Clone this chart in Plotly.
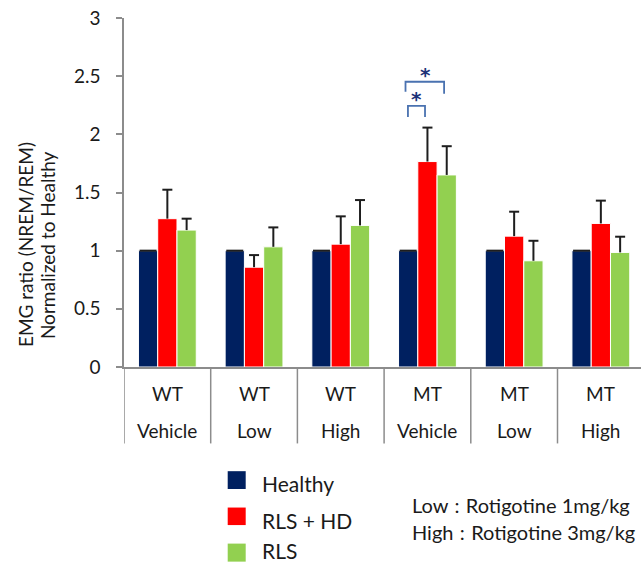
import plotly.graph_objects as go

# ---- data -------------------------------------------------------------
genotype = ["WT", "WT", "WT", "MT", "MT", "MT"]
treatment = ["Vehicle", "Low", "High", "Vehicle", "Low", "High"]

healthy = [1.0, 1.0, 1.0, 1.0, 1.0, 1.0]
rls_hd = [1.275, 0.858, 1.056, 1.766, 1.125, 1.234]
rls = [1.177, 1.033, 1.217, 1.651, 0.913, 0.985]

healthy_err = [0, 0, 0, 0, 0, 0]
rls_hd_err = [0.249, 0.104, 0.239, 0.292, 0.210, 0.196]
rls_err = [0.098, 0.167, 0.218, 0.247, 0.172, 0.135]

series_names = ["Healthy", "RLS + HD", "RLS"]
series_colors = ["#002060", "#FF0000", "#92D050"]

y_ticks = [0, 0.5, 1, 1.5, 2, 2.5, 3]
y_tick_text = ["0", "0.5", "1", "1.5", "2", "2.5", "3"]

dose_notes = ["Low\u00a0\u200a:\u00a0\u200aRotigotine 1mg/kg",
              "High\u00a0\u200a:\u00a0\u200aRotigotine 3mg/kg"]

# ---- layout geometry (pixels) ----------------------------------------
W, H = 641, 562
PL, PT = 124, 18.3          # plot-area left / top
PW = 517                    # plot-area width
PB = 366.7                  # pixel row of y = 0
PH = PB - PT
UNIT = 86.7                 # pixels per category
X_RANGE = [-0.5, -0.5 + PW / UNIT]
BARGAP = 0.333

FONT = "Lato, 'Noto Sans CJK JP', sans-serif"
TXT = "#1a1a1a"
AXIS = "#8c8c8c"


def px_x(p):
    return (p - PL) / PW


def px_y(p):
    return (PB - p) / PH


xs = list(range(len(genotype)))
bar_w = (1 - BARGAP) / 3
offsets = [-bar_w, 0.0, bar_w]

fig = go.Figure()

values = [healthy, rls_hd, rls]
errors = [healthy_err, rls_hd_err, rls_err]

for name, color, vals in zip(series_names, series_colors, values):
    fig.add_trace(go.Bar(
        x=xs, y=vals, name=name, showlegend=False,
        marker=dict(color=color, line=dict(color="white", width=1)),
    ))

# upward-only error bars with caps
cap_px = [8.5, 5, 5]
for vals, errs, off, cp in zip(values, errors, offsets, cap_px):
    ex, ey = [], []
    c = cp / UNIT
    for x, v, e in zip(xs, vals, errs):
        xc = x + off
        if e > 0:
            ex += [xc, xc, None]
            ey += [v, v + e, None]
        ex += [xc - c, xc + c, None]
        ey += [v + e, v + e, None]
    fig.add_trace(go.Scatter(
        x=ex, y=ey, mode="lines", showlegend=False, hoverinfo="skip",
        line=dict(color="#1e1e1e", width=2),
    ))

shapes = []
annotations = []

# category dividers below the axis
for k in range(len(xs) + 1):
    xb = k - 0.5
    shapes.append(dict(type="line", xref="x", yref="paper",
                       x0=xb, x1=xb, y0=0, y1=px_y(443),
                       line=dict(color=AXIS, width=1.5)))

# category labels (two rows)
cat_font = dict(family=FONT, size=19, color=TXT)
for x, g, t in zip(xs, genotype, treatment):
    annotations.append(dict(x=x, y=px_y(393), xref="x", yref="paper",
                            text=g, showarrow=False, yanchor="middle",
                            font=cat_font))
    annotations.append(dict(x=x, y=px_y(430.5), xref="x", yref="paper",
                            text=t, showarrow=False, yanchor="middle",
                            font=cat_font))

# significance brackets over MT / Vehicle
BR = "#4a72b0"
star_font = dict(family="DejaVu Sans", size=20, color="#1c3278")
# outer: Healthy vs RLS
shapes.append(dict(type="path", xref="x", yref="y",
                   path="M 2.747,2.366 L 2.747,2.452 L 3.192,2.452 L 3.192,2.349",
                   line=dict(color=BR, width=1.8)))
# inner: Healthy vs RLS + HD
shapes.append(dict(type="path", xref="x", yref="y",
                   path="M 2.775,2.150 L 2.775,2.245 L 2.972,2.245 L 2.972,2.150",
                   line=dict(color=BR, width=1.8)))
annotations.append(dict(x=2.977, y=2.506, xref="x", yref="y", text="<b>*</b>",
                        showarrow=False, yanchor="middle", font=star_font))
annotations.append(dict(x=2.878, y=2.300, xref="x", yref="y", text="<b>*</b>",
                        showarrow=False, yanchor="middle", font=star_font))

# y-axis title (two rotated lines)
for txt, xp in [("EMG ratio (NREM/REM)", 25), ("Normalized to Healthy", 47)]:
    annotations.append(dict(x=px_x(xp), y=px_y(245), xref="paper", yref="paper",
                            text=txt, textangle=-90, showarrow=False,
                            xanchor="center", yanchor="middle",
                            font=dict(family=FONT, size=19, color=TXT)))

# legend keys
leg_rows = [(470.7, 488.5, 483), (507, 524.5, 520), (543, 561, 550)]
for (top, bot, mid), name, color in zip(leg_rows, series_names, series_colors):
    shapes.append(dict(type="rect", xref="paper", yref="paper",
                       x0=px_x(227.7), x1=px_x(245.7), y0=px_y(bot), y1=px_y(top),
                       fillcolor=color, line=dict(width=0)))
    annotations.append(dict(x=px_x(260), y=px_y(mid), xref="paper", yref="paper",
                            text=name, showarrow=False, xanchor="left",
                            yanchor="middle",
                            font=dict(family=FONT, size=21, color=TXT)))

# dose notes
for txt, yy in zip(dose_notes, [504, 531]):
    annotations.append(dict(x=px_x(410), y=px_y(yy), xref="paper", yref="paper",
                            text=txt, showarrow=False, xanchor="left",
                            yanchor="middle",
                            font=dict(family=FONT, size=20, color=TXT)))

fig.update_layout(
    width=W, height=H,
    margin=dict(l=PL, r=W - PL - PW, t=PT, b=H - PB, pad=0),
    paper_bgcolor="white", plot_bgcolor="white",
    barmode="group", bargap=BARGAP, bargroupgap=0,
    shapes=shapes, annotations=annotations,
    xaxis=dict(range=X_RANGE, showticklabels=False, ticks="",
               showgrid=False, zeroline=False,
               showline=True, linecolor=AXIS, linewidth=1.5),
    yaxis=dict(range=[0, 3], tickvals=y_ticks, ticktext=y_tick_text,
               ticks="outside", ticklen=6, tickcolor=AXIS, tickwidth=1.5,
               ticklabelstandoff=12,
               tickfont=dict(family=FONT, size=19, color=TXT),
               showgrid=False, zeroline=False,
               showline=True, linecolor=AXIS, linewidth=1.5),
)

fig.write_html("out.html")
